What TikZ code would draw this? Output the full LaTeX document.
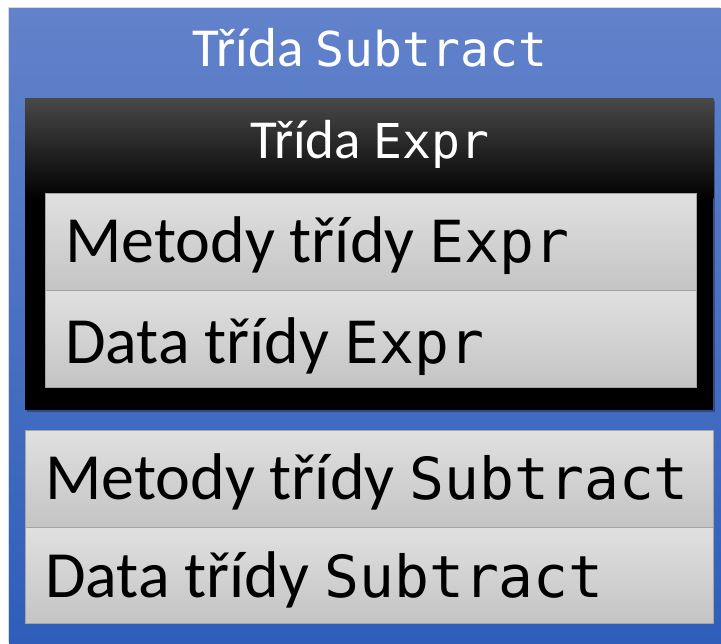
\documentclass[tikz,border=0pt]{standalone}
\usepackage{fontspec}
\usetikzlibrary{shadows}
\setmainfont{Carlito}
\newfontfamily\codefont{DejaVu Sans Mono}
\definecolor{bluetop}{RGB}{98,130,202}
\definecolor{bluebot}{RGB}{46,94,186}
\definecolor{blktop}{RGB}{72,72,72}
\definecolor{graytop}{RGB}{224,224,224}
\definecolor{graybot}{RGB}{196,196,196}
\definecolor{grayedge}{RGB}{165,165,165}
\newcommand{\tcode}[1]{{\codefont\fontsize{48}{56}\selectfont #1}}
\newcommand{\bcode}[1]{{\codefont\fontsize{58}{66}\selectfont #1}}
\tikzset{
  softshadow/.style={drop shadow={shadow xshift=2pt, shadow yshift=-2pt, opacity=0.3, fill=black}},
  outerbox/.style={anchor=north west, inner sep=0pt, top color=bluetop, bottom color=bluebot, draw=none, drop shadow={shadow xshift=-1pt, shadow yshift=1pt, opacity=0.15, fill=black}},
  blackbox/.style={anchor=north west, inner sep=0pt, fill=black, draw=none, softshadow},
  graybox/.style={anchor=north west, inner sep=0pt, top color=graytop, bottom color=graybot, draw=grayedge, line width=1pt},
  titletext/.style={text=white, font=\fontsize{55}{60}\selectfont, inner sep=0pt, anchor=base},
  bodytext/.style={text=black, font=\fontsize{66}{72}\selectfont, inner sep=0pt, anchor=base west},
}
\begin{document}
\begin{tikzpicture}[x=1pt,y=1pt]
\useasboundingbox (0,0) rectangle (721,-644);
\node[outerbox, minimum width=712pt, minimum height=636pt] (outer) at (9,-8) {};
\node[titletext] (t1) at (370,-67) {Třída \tcode{Subtract}};
\node[blackbox, minimum width=688pt, minimum height=311pt] (expr) at (25,-99) {};
\shade[top color=blktop, bottom color=black] (expr.north west) rectangle ([yshift=-100pt]expr.north east);
\node[titletext] (t2) at (370,-159) {Třída \tcode{Expr}};
\node[graybox, minimum width=651pt, minimum height=97pt] (m1) at (45,-193) {};
\node[graybox, minimum width=651pt, minimum height=97pt] (d1) at (45,-290) {};
\node[bodytext] (m1t) at (65,-263) {Metody třídy \bcode{Expr}};
\node[bodytext] (d1t) at (65,-364) {Data třídy \bcode{Expr}};
\node[graybox, minimum width=688pt, minimum height=97pt] (m2) at (25,-430) {};
\node[graybox, minimum width=688pt, minimum height=96pt] (d2) at (25,-527) {};
\node[bodytext] (m2t) at (45,-500) {Metody třídy \bcode{Subtract}};
\node[bodytext] (d2t) at (45,-597) {Data třídy \bcode{Subtract}};
\end{tikzpicture}
\end{document}
